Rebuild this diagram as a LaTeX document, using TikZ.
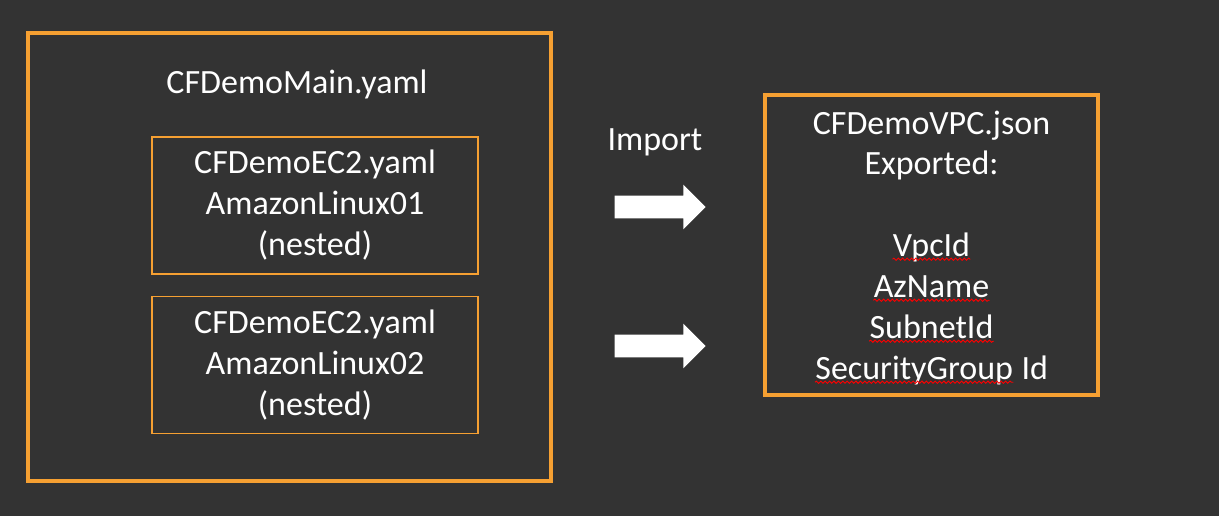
\documentclass[tikz,border=0pt]{standalone}
\usepackage{fontspec}
\setmainfont{Carlito}
\usetikzlibrary{shapes.arrows,decorations.pathmorphing}
\definecolor{board}{RGB}{51,51,51}
\definecolor{frame}{RGB}{246,160,50}
\tikzstyle{outer} = [rectangle, draw=frame, line width=1.75pt]
\tikzstyle{nested} = [rectangle, draw=frame, line width=0.55pt, minimum width=163pt, minimum height=68.5pt, align=center, text=white]
\tikzstyle{txt} = [text=white]
\tikzstyle{item} = [text=white, inner sep=0pt, anchor=base]
\tikzstyle{importarrow} = [single arrow, fill=white, draw=none, inner sep=5.5pt, minimum height=45.5pt, minimum width=22pt, single arrow head extend=5.5pt]
\tikzstyle{spell} = [draw=red, line width=0.45pt, decorate, decoration={snake, amplitude=0.55pt, segment length=2.2pt}]
\begin{document}
\begin{tikzpicture}[x=0.5pt, y=-0.5pt, node distance=79.75pt, font=\fontsize{17}{20.5}\selectfont]
\fill[board] (0,0) rectangle (1219,516);
\useasboundingbox (0,0) rectangle (1219,516);

\node (main) [outer, minimum width=261.5pt, minimum height=224pt] at (289.5,257) {};
\node (title) [txt, anchor=base] at (297,93) {CFDemoMain.yaml};
\node (ec2a) [nested] at (315,205.5) {CFDemoEC2.yaml\\AmazonLinux01\\(nested)};
\node (ec2b) [nested, below of=ec2a] {CFDemoEC2.yaml\\AmazonLinux02\\(nested)};

\node (vpc) [outer, minimum width=166.5pt, minimum height=150pt] at (931.5,245) {};
\node (vpcname) [item] at (931.5,134) {CFDemoVPC.json};
\node (exported) [item] at (931.5,174.5) {Exported:};
\node (vpcid) [item] at (931.5,256) {VpcId};
\node (azname) [item] at (931.5,297) {AzName};
\node (subnet) [item] at (931.5,338) {SubnetId};
\node (secgrp) [item, anchor=base west] at (815,379) {SecurityGroup};
\node (secid) [item, anchor=base west] at (secgrp.base east) {\ Id};

% spell-check marks
\foreach \w in {vpcid, azname, subnet, secgrp}
    \draw [spell] ([yshift=-1.6pt]\w.base west) -- ([yshift=-1.6pt]\w.base east);

\node (imp) [txt, anchor=base] at (655,150) {Import};
\node (arr1) [importarrow] at (654.5,207) {};
\node (arr2) [importarrow] at (654.5,346) {};
\end{tikzpicture}
\end{document}
